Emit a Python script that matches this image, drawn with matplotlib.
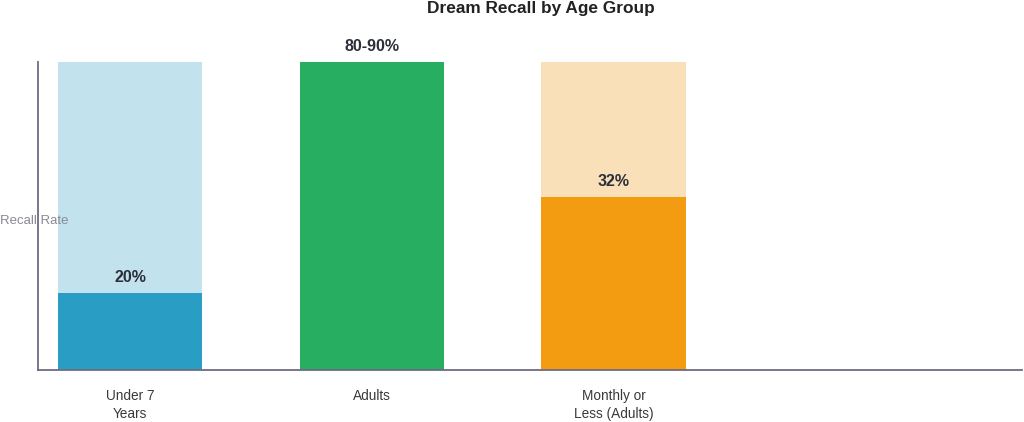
import matplotlib.pyplot as plt

plt.rcParams['font.family'] = ['Liberation Sans', 'DejaVu Sans']

# data (heights read as share of the axis height)
categories = ["Under 7\nYears", "Adults", "Monthly or\nLess (Adults)"]
background = [100, 100, 100]
values = [25, 100, 56]
labels = ["20%", "80-90%", "32%"]
bg_colors = ["#c2e3ed", "#27ae60", "#f9e0b9"]
fg_colors = ["#2a9dc4", "#27ae60", "#f39c12"]

fig = plt.figure(figsize=(10.24, 4.22), dpi=100)
ax = fig.add_axes([0.0371, 0.1232, 0.9609, 0.730])

x = list(range(len(categories)))
ax.bar(x, background, width=0.596, color=bg_colors, zorder=1)
ax.bar(x, values, width=0.596, color=fg_colors, zorder=2)

for i in x:
    ax.annotate(labels[i], (i, values[i]), xytext=(0, 6), textcoords="offset points",
                ha="center", va="bottom", fontsize=11.5, fontweight="bold", color="#2c2f3a")

ax.set_xlim(-0.381, 3.69)
ax.set_ylim(0, 100)
ax.set_xticks(x)
ax.set_xticklabels(categories, fontsize=9.8, color="#3a3a3a", linespacing=1.35)
ax.tick_params(axis="x", length=0, pad=13.5)
ax.set_yticks([])

for s in ["top", "right"]:
    ax.spines[s].set_visible(False)
for s in ["left", "bottom"]:
    ax.spines[s].set_color("#6e6a82")
    ax.spines[s].set_linewidth(1.3)

fig.text(0.0, 0.476, "Recall Rate", fontsize=9.5, color="#8a8a94", ha="left", va="center")
fig.text(0.528, 0.981, "Dream Recall by Age Group", fontsize=12.4, fontweight="bold",
         color="#222222", ha="center", va="center")

fig.savefig("out.png", dpi=100)
